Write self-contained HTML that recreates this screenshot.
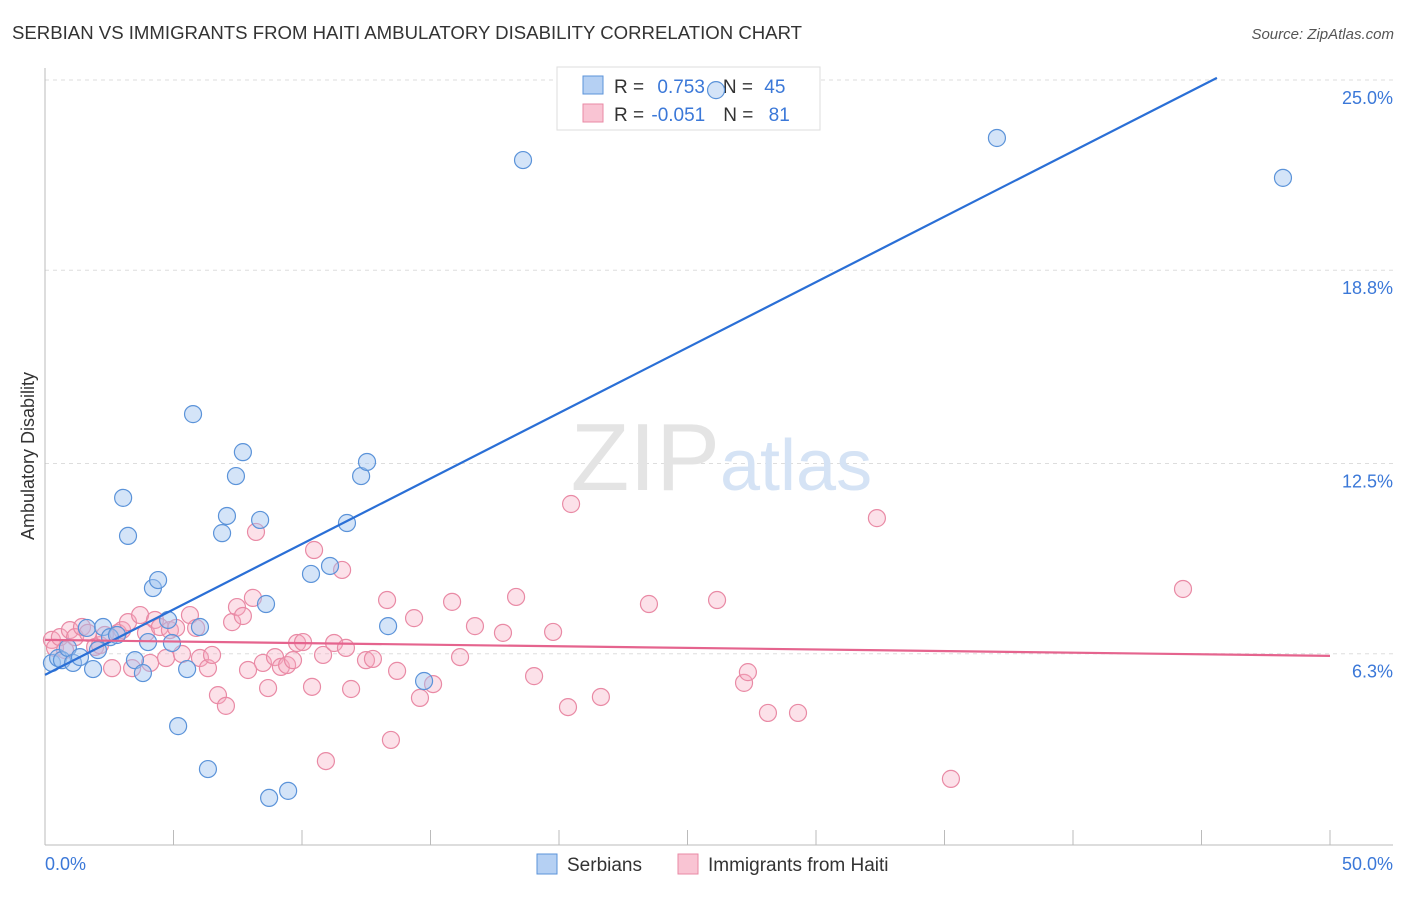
<!DOCTYPE html>
<html><head><meta charset="utf-8"><style>
body{margin:0;background:#fff;font-family:"Liberation Sans",sans-serif}
svg text{font-family:"Liberation Sans",sans-serif}
</style></head><body>
<svg width="1406" height="892" viewBox="0 0 1406 892">
<text x="12" y="39" font-size="18.6" fill="#333">SERBIAN VS IMMIGRANTS FROM HAITI AMBULATORY DISABILITY CORRELATION CHART</text>
<text x="1394" y="39" font-size="15" fill="#555" text-anchor="end" font-style="italic">Source: ZipAtlas.com</text>
<g id="grid"></g>
<text x="720" y="490" font-size="96" fill="#e4e4e4" text-anchor="end" font-family="Liberation Serif">ZIP</text>
<text x="720" y="490" font-size="72" fill="#d5e3f5">atlas</text>
<g>
<rect x="557" y="67" width="263" height="63" fill="#fff" stroke="#ddd"/>
<rect x="583" y="76" width="20" height="18" fill="#b5d0f3" stroke="#5b93d9"/>
<rect x="583" y="104" width="20" height="18" fill="#f9c4d3" stroke="#e98aa5"/>
<text x="614" y="93" font-size="19" fill="#333">R = <tspan fill="#3b78d8" dx="8">0.753</tspan><tspan dx="18">N = </tspan><tspan fill="#3b78d8" dx="6">45</tspan></text>
<text x="614" y="121" font-size="19" fill="#333">R = <tspan fill="#3b78d8" dx="2">-0.051</tspan><tspan dx="18">N = </tspan><tspan fill="#3b78d8" dx="10">81</tspan></text>
</g>
<g id="pts"></g>
<g id="lines"></g>
<text transform="translate(34,456) rotate(-90)" font-size="18" fill="#333" text-anchor="middle">Ambulatory Disability</text>
<text x="45" y="870" font-size="18" fill="#3b78d8">0.0%</text>
<text x="1393" y="870" font-size="18" fill="#3b78d8" text-anchor="end">50.0%</text>
<g>
<rect x="537" y="854" width="20" height="20" fill="#b5d0f3" stroke="#5b93d9"/>
<text x="567" y="871" font-size="19" fill="#333">Serbians</text>
<rect x="678" y="854" width="20" height="20" fill="#f9c4d3" stroke="#e98aa5"/>
<text x="708" y="871" font-size="19" fill="#333">Immigrants from Haiti</text>
</g>
</svg>
<script>
const yTicks=[25.0,18.8,12.5,6.3];
const yTickLabels=["25.0%","18.8%","12.5%","6.3%"];
const xTicks=[0,5,10,15,20,25,30,35,40,45,50];
const serbX=[0.27,0.51,0.66,0.89,1.09,1.36,1.63,1.87,2.06,2.26,2.53,2.80,3.04,3.23,3.50,3.81,4.01,4.20,4.40,4.79,4.94,5.18,5.53,5.76,6.03,6.34,6.89,7.08,7.43,7.70,8.37,8.60,8.72,9.46,10.35,11.09,11.75,12.30,12.53,13.35,14.75,18.60,26.11,37.04,48.17];
const serbY=[6.00,6.16,6.09,6.49,6.00,6.19,7.14,5.80,6.42,7.17,6.84,6.91,11.38,10.14,6.09,5.67,6.68,8.44,8.70,7.40,6.65,3.94,5.80,14.11,7.17,2.54,10.23,10.79,12.09,12.87,10.66,7.92,1.60,1.83,8.90,9.16,10.56,12.09,12.55,7.20,5.41,22.39,24.67,23.11,21.81];
const haitiX=[0.27,0.39,0.58,0.78,0.97,1.17,1.44,1.67,1.95,2.14,2.33,2.61,2.84,3.00,3.23,3.39,3.70,3.93,4.09,4.28,4.47,4.71,4.86,5.10,5.33,5.64,5.88,6.03,6.34,6.50,6.73,7.04,7.28,7.47,7.70,7.90,8.09,8.21,8.48,8.68,8.95,9.18,9.42,9.65,9.81,10.04,10.39,10.47,10.82,10.93,11.25,11.56,11.71,11.91,12.49,12.76,13.31,13.46,13.70,14.36,14.59,15.10,15.84,16.15,16.73,17.82,18.33,19.03,19.77,20.35,20.47,21.63,23.50,26.15,27.20,27.35,28.13,29.30,32.37,35.25,44.28];
const haitiY=[6.75,6.49,6.84,6.42,7.07,6.84,7.17,6.98,6.52,6.58,6.91,5.83,6.98,7.07,7.33,5.83,7.56,6.98,6.00,7.40,7.17,6.16,7.07,7.14,6.29,7.56,7.14,6.16,5.83,6.26,4.95,4.60,7.33,7.82,7.53,5.77,8.12,10.27,6.00,5.18,6.19,5.87,5.93,6.09,6.65,6.68,5.22,9.68,6.26,2.80,6.65,9.03,6.49,5.15,6.09,6.13,8.05,3.49,5.74,7.46,4.86,5.31,7.99,6.19,7.20,6.98,8.15,5.57,7.01,4.56,11.18,4.89,7.92,8.05,5.35,5.70,4.37,4.37,10.72,2.22,8.41];
const serbTrend=[[0,5.61],[45.6,25.07]];
const haitiTrend=[[0,6.75],[50,6.23]];
const NS="http://www.w3.org/2000/svg";
const xs=v=>45+v*25.7, ys=v=>847-v*30.68;
function mk(t,a,p){const e=document.createElementNS(NS,t);for(const k in a)e.setAttribute(k,a[k]);p.appendChild(e);return e;}
const g=document.getElementById('grid');
yTicks.forEach((t,i)=>{
 const l=mk('line',{x1:45,x2:1393,y1:ys(t),y2:ys(t),stroke:'#ddd','stroke-dasharray':'4,4'},g);
 
 
 const tx=mk('text',{x:1393,y:ys(t)+24,'font-size':18,fill:'#3b78d8','text-anchor':'end'},g);
 tx.textContent=yTickLabels[i];
 
 
});
const ax=mk('line',{x1:45,x2:45,y1:68,y2:845,stroke:'#bbb'},g);


const bx=mk('line',{x1:45,x2:1393,y1:845,y2:845,stroke:'#bbb'},g);


xTicks.forEach(t=>{
 const l=mk('line',{x1:xs(t),x2:xs(t),y1:830,y2:845,stroke:'#bbb'},g);
 
 
});
const p=document.getElementById('pts');
haitiX.forEach((v,i)=>{
 const c=mk('circle',{cx:xs(v),cy:ys(haitiY[i]),r:8.5,fill:'rgba(246,170,192,0.35)',stroke:'#e98aa5','stroke-width':1.2},p);
 
 
});
serbX.forEach((v,i)=>{
 const c=mk('circle',{cx:xs(v),cy:ys(serbY[i]),r:8.5,fill:'rgba(160,195,240,0.45)',stroke:'#5b93d9','stroke-width':1.2},p);
 
 
});
const L=document.getElementById('lines');
const sl=mk('line',{x1:xs(serbTrend[0][0]),y1:ys(serbTrend[0][1]),x2:xs(serbTrend[1][0]),y2:ys(serbTrend[1][1]),stroke:'#2a6fd6','stroke-width':2.2},L);


const hl=mk('line',{x1:xs(haitiTrend[0][0]),y1:ys(haitiTrend[0][1]),x2:xs(haitiTrend[1][0]),y2:ys(haitiTrend[1][1]),stroke:'#e5648e','stroke-width':2.2},L);


</script>
</body></html>
